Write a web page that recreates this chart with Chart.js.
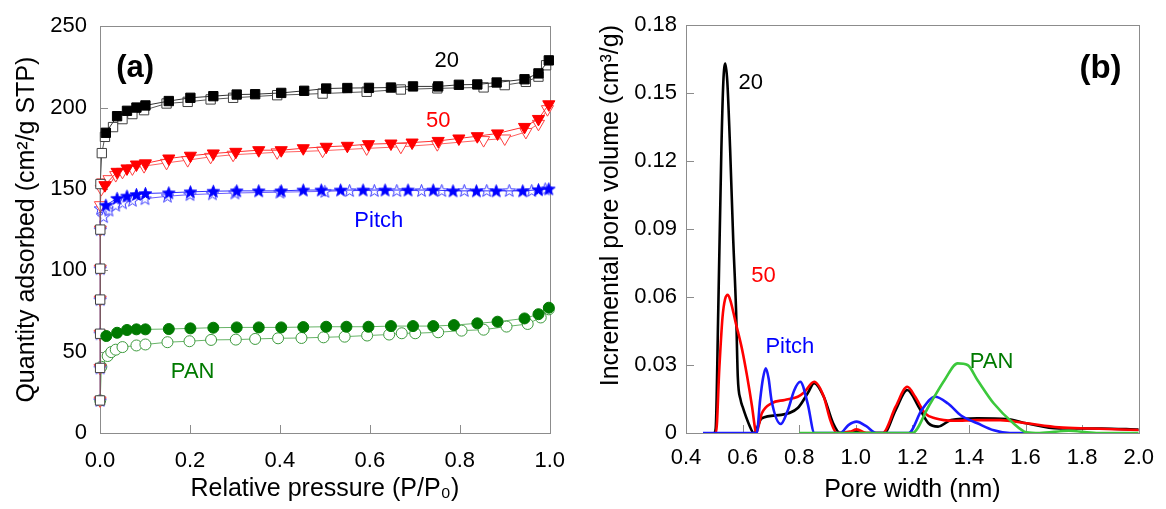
<!DOCTYPE html>
<html>
<head>
<meta charset="utf-8">
<title>Isotherms and pore size distribution</title>
<script src="https://cdn.jsdelivr.net/npm/chart.js@4.4.1/dist/chart.umd.min.js"></script>
<style>
  body { margin: 0; background: #fff; }
  #wrapA { position: absolute; left: 0; top: 0; width: 580px; height: 509px; }
  #wrapB { position: absolute; left: 580px; top: 0; width: 586px; height: 509px; }
</style>
</head>
<body>
<div id="wrapA"><canvas id="chartA"></canvas></div>
<div id="wrapB"><canvas id="chartB"></canvas></div>
<script>
// ---- panel (a): N2 isotherms, relative pressure vs quantity adsorbed ----
// "20" sample, filled squares
const p20f = [0.013,0.038,0.060,0.081,0.101,0.153,0.201,0.252,0.304,0.345,0.403,0.454,0.503,0.550,0.598,0.647,0.696,0.752,0.798,0.839,0.882,0.944,0.975,0.998];
const q20f = [184.5,194.7,198,200,201.3,204,206,207,208,208.2,209,210.3,211.7,212,212.1,212.3,213,213,214,214.2,215.4,217.4,221,229];
// "20" sample, open squares
const p20o = [0.0001,0.0002,0.0003,0.0004,0.0005,0.0007,0.001,0.004,0.011,0.029,0.050,0.072,0.098,0.148,0.195,0.246,0.296,0.394,0.495,0.593,0.669,0.750,0.853,0.900,0.947,0.975,0.992];
const q20o = [20,40,61,82,101,125,153,172,182,188,192.9,196,198.4,202.5,203.5,205,206,207.6,208.6,209.7,211.1,211.8,212.4,213.8,215.8,219,226];
// "50" sample, filled triangles
const p50f = [0.011,0.038,0.060,0.081,0.101,0.153,0.201,0.252,0.302,0.353,0.403,0.452,0.503,0.550,0.597,0.647,0.694,0.752,0.798,0.839,0.884,0.944,0.975,0.998];
const q50f = [152.3,160.5,162.6,165,165.7,168.7,170.4,171.8,172.8,173.8,173.8,175,175.9,176.5,177.5,177.9,178.5,179.5,181,182.4,184.1,188.1,193,202];
// "50" sample, open triangles
const p50o = [0.0001,0.0002,0.0003,0.0004,0.0005,0.0007,0.001,0.003,0.006,0.020,0.035,0.050,0.072,0.098,0.148,0.195,0.246,0.296,0.394,0.495,0.593,0.669,0.750,0.853,0.900,0.947,0.975,0.995];
const q50o = [20,40,61,82,101,125,140,150,154,156,158.5,160.5,162.6,164,166,167.7,169.7,171,172.5,173.5,174.9,175.9,177.5,180,181,185,190,199];
// Pitch, filled stars
const pPf = [0.013,0.038,0.060,0.081,0.101,0.153,0.201,0.252,0.304,0.353,0.403,0.452,0.492,0.535,0.585,0.634,0.685,0.741,0.785,0.837,0.881,0.940,0.975,0.998];
const qPf = [140,144.2,145.6,146.6,147.2,147.6,148.2,148.6,148.8,148.8,148.8,149.3,149.3,149.3,149.3,149.3,149.3,149.3,148.8,148.8,148.8,148.8,149.5,150];
// Pitch, open stars
const pPo = [0.0001,0.0002,0.0003,0.0004,0.0005,0.0007,0.001,0.008,0.020,0.035,0.050,0.072,0.100,0.150,0.200,0.250,0.300,0.400,0.500,0.555,0.610,0.660,0.715,0.760,0.810,0.860,0.910,0.960,0.990];
const qPo = [20,40,61,82,101,125,138,133,137,140,141.5,143,144,145.5,146.5,147,147.5,148,148.5,149,149,149,149,149,149,149,149,149,150];
// PAN, filled circles
const pNf = [0.014,0.038,0.060,0.081,0.101,0.153,0.201,0.252,0.304,0.353,0.403,0.452,0.503,0.548,0.597,0.647,0.696,0.741,0.787,0.839,0.884,0.944,0.975,0.998];
const qNf = [59.6,61.6,63.3,63.7,63.7,63.9,64.3,64.7,64.9,64.9,64.9,65.1,65.3,65.3,65.3,65.7,65.7,65.7,66.3,67.4,68.4,70.4,73,77];
// PAN, open circles
const pNo = [0.0005,0.003,0.017,0.025,0.035,0.050,0.081,0.101,0.150,0.199,0.247,0.302,0.345,0.396,0.448,0.497,0.544,0.594,0.643,0.671,0.701,0.752,0.804,0.853,0.904,0.951,0.980,0.998];
const qNo = [20,40.7,47.3,49.7,51.2,52.8,53.8,54.4,55.8,56.4,57.2,57.4,57.8,58.2,58.4,58.8,59.2,59.9,60.5,61.3,61.3,61.9,62.9,63.5,65.4,67,71,76];

const xTicksA = [0, 0.2, 0.4, 0.6, 0.8, 1.0];
const xTickLabelsA = ['0.0', '0.2', '0.4', '0.6', '0.8', '1.0'];
const yTicksA = [0, 50, 100, 150, 200, 250];
const yTickLabelsA = ['0', '50', '100', '150', '200', '250'];

// ---- panel (b): pore size distribution ----
const w20 = [0.500,0.505,0.514,0.525,0.532,0.539,0.546,0.556,0.567,0.577,0.583,0.593,0.600,0.622,0.640,0.668,0.737,0.795,0.830,0.853,0.887,0.920,0.945,0.975,1.000,1.030,1.100,1.141,1.182,1.222,1.257,1.291,1.337,1.430,1.534,1.603,1.718,1.868,2.000];
const v20 = [0,0.002,0.054,0.125,0.155,0.163,0.155,0.125,0.085,0.054,0.025,0.0146,0.0116,0.004,0,0.0065,0.008,0.011,0.0175,0.022,0.016,0.0043,0,0,0.001,0,0,0.0101,0.019,0.0116,0.0043,0.0028,0.0057,0.0065,0.0062,0.0043,0.002,0.002,0.0015];
const w50 = [0.500,0.506,0.518,0.529,0.538,0.548,0.558,0.575,0.598,0.616,0.633,0.645,0.648,0.668,0.702,0.749,0.795,0.818,0.853,0.887,0.910,0.933,0.980,1.003,1.037,1.095,1.141,1.182,1.210,1.245,1.280,1.349,1.430,1.510,1.603,1.718,1.834,2.000];
const v50 = [0,0,0.029,0.051,0.059,0.061,0.058,0.049,0.037,0.025,0.012,0.0013,0,0.0087,0.0131,0.0146,0.016,0.018,0.0226,0.016,0.0057,0,0.0006,0.0016,0,0,0.0116,0.0204,0.016,0.0087,0.0065,0.0054,0.0057,0.0057,0.0043,0.0025,0.002,0.0013];
const wPitch = [0.460,0.650,0.662,0.672,0.682,0.692,0.702,0.735,0.760,0.783,0.804,0.830,0.854,0.945,0.974,1.003,1.037,1.072,1.187,1.233,1.280,1.326,1.372,1.430,1.488,1.545,1.600];
const vPitch = [0,0,0.0146,0.024,0.0285,0.024,0.0146,0.004,0.0101,0.019,0.0226,0.013,0,0,0.0035,0.005,0.003,0,0,0.0101,0.016,0.013,0.0077,0.0043,0.0012,0,0];
const wPAN = [0.800,1.200,1.257,1.314,1.360,1.395,1.430,1.488,1.557,1.603,1.650,1.753,1.850,2.000];
const vPAN = [0,0,0.0116,0.0234,0.0307,0.030,0.0234,0.013,0.0043,0.0003,0,0.001,0,0];

const xTicksB = [0.4, 0.6, 0.8, 1.0, 1.2, 1.4, 1.6, 1.8, 2.0];
const xTickLabelsB = ['0.4', '0.6', '0.8', '1.0', '1.2', '1.4', '1.6', '1.8', '2.0'];
const yTicksB = [0, 0.03, 0.06, 0.09, 0.12, 0.15, 0.18];
const yTickLabelsB = ['0', '0.03', '0.06', '0.09', '0.12', '0.15', '0.18'];

const FONT = "'Liberation Sans', Arial, sans-serif";
Chart.defaults.font.family = FONT;
Chart.defaults.color = '#000';

function pts(xs, ys) {
    return xs.map((x, i) => ({ x: x, y: ys[i] }));
}

// filled / open five point star used as point style
function starImage(fill, stroke) {
    const size = 15;
    const c = document.createElement('canvas');
    c.width = size; c.height = size;
    const g = c.getContext('2d');
    const R = 6.6, r = 2.7, cx = size / 2, cy = size / 2 + 0.5;
    g.beginPath();
    for (let i = 0; i < 10; i++) {
        const rad = i % 2 ? r : R;
        const ang = -Math.PI / 2 + i * Math.PI / 5;
        g.lineTo(cx + rad * Math.cos(ang), cy + rad * Math.sin(ang));
    }
    g.closePath();
    g.fillStyle = fill; g.fill();
    g.strokeStyle = stroke; g.lineWidth = 1; g.stroke();
    return c;
}

// grey frame and inward tick marks
const frameTicks = {
    id: 'frameTicks',
    beforeDatasetsDraw(chart) {
        const { ctx, chartArea: a, scales } = chart;
        ctx.save();
        ctx.strokeStyle = '#8c8c8c';
        ctx.lineWidth = 1;
        ctx.strokeRect(Math.round(a.left) + 0.5, Math.round(a.top) + 0.5, Math.round(a.width), Math.round(a.height));
        ctx.beginPath();
        scales.x.ticks.forEach(t => {
            const px = Math.round(scales.x.getPixelForValue(t.value)) + 0.5;
            ctx.moveTo(px, a.bottom); ctx.lineTo(px, a.bottom - 8);
        });
        scales.y.ticks.forEach(t => {
            const py = Math.round(scales.y.getPixelForValue(t.value)) + 0.5;
            ctx.moveTo(a.left, py); ctx.lineTo(a.left + 8, py);
        });
        ctx.stroke();
        ctx.restore();
    }
};

// text labels placed in data coordinates
const notes = {
    id: 'notes',
    afterDraw(chart, args, opts) {
        const { ctx, scales } = chart;
        ctx.save();
        ctx.textAlign = 'center';
        ctx.textBaseline = 'alphabetic';
        opts.items.forEach(n => {
            ctx.font = (n.bold ? 'bold ' : '') + n.size + 'px ' + FONT;
            ctx.fillStyle = n.color;
            ctx.fillText(n.text, scales.x.getPixelForValue(n.x), scales.y.getPixelForValue(n.y));
        });
        ctx.restore();
    }
};

function axis(opts) {
    return {
        type: 'linear',
        min: opts.min,
        max: opts.max,
        afterFit(s) { if (opts.width) s.width = opts.width; if (opts.height) s.height = opts.height; },
        afterBuildTicks(s) { s.ticks = opts.ticks.map(v => ({ value: v })); },
        grid: { display: false, drawTicks: false },
        border: { display: false },
        ticks: {
            padding: opts.pad,
            color: '#000',
            font: { size: 22 },
            callback: (v, i) => opts.labels[i]
        },
        title: {
            display: true,
            text: opts.title,
            align: opts.align || 'center',
            color: '#000',
            font: { size: 25 },
            padding: opts.titlePad
        }
    };
}

const markerSet = (style, r, bg, border, rot) => ({
    pointStyle: style, pointRadius: r, pointHoverRadius: r, pointRotation: rot || 0,
    pointBackgroundColor: bg, pointBorderColor: border, pointBorderWidth: 1
});

const starFill = starImage('#0000ff', '#0000ff');
const starOpen = starImage('#ffffff', '#3a3aff');

new Chart(document.getElementById('chartA'), {
    type: 'scatter',
    data: {
        datasets: [
            Object.assign({ label: '20', data: pts(p20f, q20f), showLine: true, borderColor: '#333333', borderWidth: 1, clip: false }, markerSet('rect', 6.6, '#000000', '#000000')),
            Object.assign({ label: '50', data: pts(p50f, q50f), showLine: true, borderColor: '#ff3030', borderWidth: 1, clip: false }, markerSet('triangle', 7, '#ff0000', '#ff0000', 180)),
            Object.assign({ label: 'Pitch', data: pts(pPf, qPf), showLine: true, borderColor: '#3030ff', borderWidth: 1, clip: false }, markerSet(starFill, 7, '#0000ff', '#0000ff')),
            Object.assign({ label: 'PAN', data: pts(pNf, qNf), showLine: true, borderColor: '#66b366', borderWidth: 1, clip: false }, markerSet('circle', 5.5, '#007a00', '#007a00')),
            Object.assign({ label: '20 open', data: pts(p20o, q20o), showLine: true, borderColor: '#555555', borderWidth: 1, clip: false }, markerSet('rect', 6.6, '#ffffff', '#404040')),
            Object.assign({ label: '50 open', data: pts(p50o, q50o), showLine: true, borderColor: '#ff6060', borderWidth: 1, clip: false }, markerSet('triangle', 7, '#ffffff', '#ff4040', 180)),
            Object.assign({ label: 'Pitch open', data: pts(pPo, qPo), showLine: true, borderColor: '#6a5cff', borderWidth: 1, clip: false }, markerSet(starOpen, 7, '#ffffff', '#3a3aff')),
            Object.assign({ label: 'PAN open', data: pts(pNo, qNo), showLine: true, borderColor: '#66b366', borderWidth: 1, clip: false }, markerSet('circle', 5.5, '#ffffff', '#3c9a3c'))
        ]
    },
    options: {
        responsive: true,
        maintainAspectRatio: false,
        animation: false,
        layout: { padding: { top: 26, right: 19, left: 0, bottom: 0 } },
        scales: {
            x: axis({ min: 0, max: 1, ticks: xTicksA, labels: xTickLabelsA, height: 76, pad: 15,
                      title: 'Relative pressure (P/P\u2080)', titlePad: { bottom: 5 } }),
            y: axis({ min: 0, max: 250, ticks: yTicksA, labels: yTickLabelsA, width: 100, pad: 13,
                      title: 'Quantity adsorbed (cm\u00b2/g STP)', titlePad: { top: 12 } })
        },
        plugins: {
            legend: { display: false },
            tooltip: { enabled: false },
            notes: { items: [
                { text: '(a)', x: 0.078, y: 218.7, color: '#000', size: 31, bold: true },
                { text: '20', x: 0.771, y: 224.8, color: '#000', size: 22 },
                { text: '50', x: 0.752, y: 188.1, color: '#ff0000', size: 22 },
                { text: 'Pitch', x: 0.62, y: 126.5, color: '#0000ff', size: 22 },
                { text: 'PAN', x: 0.206, y: 33.6, color: '#007a00', size: 22 }
            ] }
        }
    },
    plugins: [frameTicks, notes]
});

const lineSet = (label, xs, ys, color) => ({
    label: label, data: pts(xs, ys), showLine: true, borderColor: color, borderWidth: 2.6,
    pointRadius: 0, cubicInterpolationMode: 'monotone'
});

new Chart(document.getElementById('chartB'), {
    type: 'scatter',
    data: {
        datasets: [
            lineSet('PAN', wPAN, vPAN, '#3cc83c'),
            lineSet('Pitch', wPitch, vPitch, '#1a1aff'),
            lineSet('50', w50, v50, '#ff0000'),
            lineSet('20', w20, v20, '#000000')
        ]
    },
    options: {
        responsive: true,
        maintainAspectRatio: false,
        animation: false,
        layout: { padding: { top: 25, right: 18, left: 0, bottom: 0 } },
        scales: {
            x: axis({ min: 0.4, max: 2.0, ticks: xTicksB, labels: xTickLabelsB, height: 76, pad: 12,
                      title: 'Pore width (nm)', titlePad: { bottom: 4 } }),
            y: axis({ min: 0, max: 0.18, ticks: yTicksB, labels: yTickLabelsB, width: 106, pad: 9,
                      title: 'Incremental pore volume (cm\u00b3/g)', titlePad: { top: 16 }, align: 'end' })
        },
        plugins: {
            legend: { display: false },
            tooltip: { enabled: false },
            notes: { items: [
                { text: '(b)', x: 1.865, y: 0.1566, color: '#000', size: 33, bold: true },
                { text: '20', x: 0.629, y: 0.1516, color: '#000', size: 22 },
                { text: '50', x: 0.674, y: 0.0667, color: '#ff0000', size: 22 },
                { text: 'Pitch', x: 0.767, y: 0.0354, color: '#0000ff', size: 22 },
                { text: 'PAN', x: 1.48, y: 0.0288, color: '#007a00', size: 22 }
            ] }
        }
    },
    plugins: [frameTicks, notes]
});
</script>
</body>
</html>
